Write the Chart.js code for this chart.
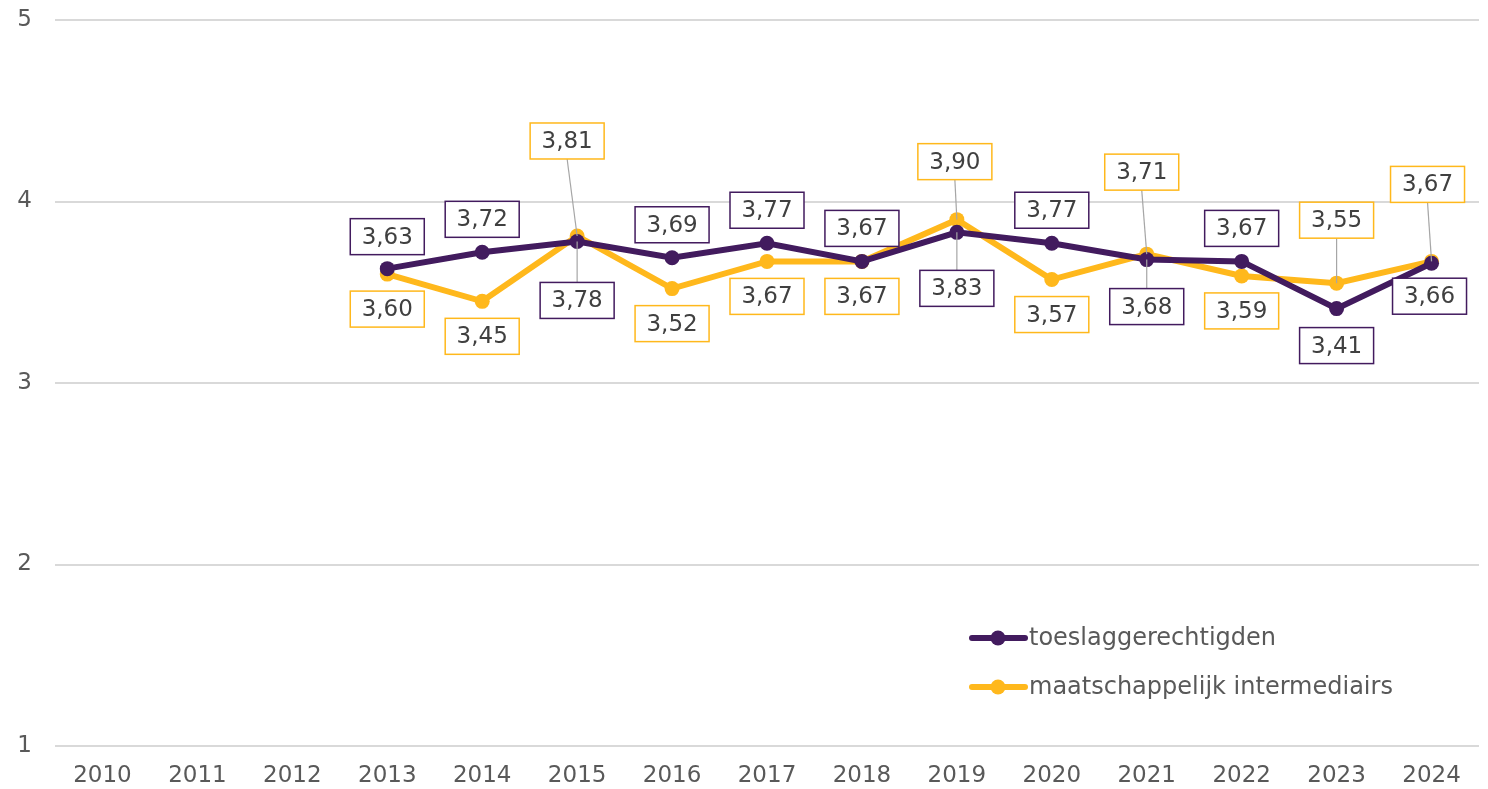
<!DOCTYPE html>
<html>
<head>
<meta charset="utf-8">
<script src="https://cdn.jsdelivr.net/npm/chart.js@4/dist/chart.umd.min.js"></script>
<style>
  html, body { margin: 0; padding: 0; background: #fff; }
  #wrap { width: 1488px; height: 789px; }
</style>
</head>
<body>
<div id="wrap"><canvas id="chart"></canvas></div>
<script>
// Data
const years = ['2010', '2011', '2012', '2013', '2014', '2015', '2016', '2017', '2018', '2019', '2020', '2021', '2022', '2023', '2024'];
const toeslag = [null, null, null, 3.63, 3.72, 3.78, 3.69, 3.77, 3.67, 3.83, 3.77, 3.68, 3.67, 3.41, 3.66];
const intermediairs = [null, null, null, 3.60, 3.45, 3.81, 3.52, 3.67, 3.67, 3.90, 3.57, 3.71, 3.59, 3.55, 3.67];
const yTicks = [1, 2, 3, 4, 5];

// Label placement (pixels from the point)
const toeslagLabelDy = [0, 0, 0, -32, -33, 59, -33, -33, -33, 56, -33, 47, -33, 37, 33];
const toeslagLabelDx = [0, 0, 0, 0, 0, 0, 0, 0, 0, 0, 0, 0, 0, 0, -2];
const interLabelDy = [0, 0, 0, 35, 35, -95, 35, 35, 35, -58, 35, -82, 35, -63, -77];
const interLabelDx = [0, 0, 0, 0, 0, -10, 0, 0, 0, -2, 0, -5, 0, 0, -4];

const PURPLE = '#421B5E';
const YELLOW = '#FFB81C';
const TEXT = '#595959';
const FONT = '"DejaVu Sans", Verdana, sans-serif';
const FONT_SIZE = 23;

const labelPlugin = {
    id: 'boxLabels',
    afterDatasetsDraw(chart) {
        const ctx = chart.ctx;
        const sets = [
            { idx: 0, dx: toeslagLabelDx, dy: toeslagLabelDy, color: PURPLE },
            { idx: 1, dx: interLabelDx, dy: interLabelDy, color: YELLOW }
        ];
        const w = 74, h = 36;
        ctx.save();
        sets.forEach(s => {
            const meta = chart.getDatasetMeta(s.idx);
            const values = chart.data.datasets[s.idx].data;
            meta.data.forEach((pt, i) => {
                if (values[i] === null) return;
                const cx = pt.x + s.dx[i];
                const cy = pt.y + s.dy[i];
                if (Math.abs(s.dy[i]) > 40) {
                    ctx.strokeStyle = '#A6A6A6';
                    ctx.lineWidth = 1.2;
                    ctx.beginPath();
                    ctx.moveTo(pt.x, pt.y);
                    ctx.lineTo(cx, s.dy[i] > 0 ? cy - h / 2 : cy + h / 2);
                    ctx.stroke();
                }
                ctx.fillStyle = '#fff';
                ctx.fillRect(cx - w / 2, cy - h / 2, w, h);
                ctx.strokeStyle = s.color;
                ctx.lineWidth = 1.5;
                ctx.strokeRect(cx - w / 2, cy - h / 2, w, h);
                ctx.fillStyle = '#404040';
                ctx.font = FONT_SIZE + 'px ' + FONT;
                ctx.textAlign = 'center';
                ctx.textBaseline = 'middle';
                ctx.fillText(values[i].toFixed(2).replace('.', ','), cx, cy + 1);
            });
        });
        ctx.restore();
    }
};

const legendPlugin = {
    id: 'innerLegend',
    afterDraw(chart) {
        const ctx = chart.ctx;
        const x0 = 970, rows = [638, 687];
        ctx.save();
        chart.data.datasets.forEach((ds, i) => {
            const y = rows[i];
            ctx.strokeStyle = ds.borderColor;
            ctx.lineWidth = 6;
            ctx.lineCap = 'round';
            ctx.beginPath();
            ctx.moveTo(x0 + 2, y);
            ctx.lineTo(x0 + 55, y);
            ctx.stroke();
            ctx.fillStyle = ds.borderColor;
            ctx.beginPath();
            ctx.arc(x0 + 28, y, 7.5, 0, Math.PI * 2);
            ctx.fill();
            ctx.fillStyle = TEXT;
            ctx.font = '24px ' + FONT;
            ctx.textAlign = 'left';
            ctx.textBaseline = 'middle';
            ctx.fillText(ds.label, x0 + 59, y + 1);
        });
        ctx.restore();
    }
};

new Chart(document.getElementById('chart'), {
    type: 'line',
    data: {
        labels: years,
        datasets: [
            {
                label: 'toeslaggerechtigden',
                data: toeslag,
                borderColor: PURPLE,
                backgroundColor: PURPLE,
                borderWidth: 6,
                pointRadius: 7.5,
                pointHoverRadius: 7.5,
                pointBorderWidth: 0,
                tension: 0
            },
            {
                label: 'maatschappelijk intermediairs',
                data: intermediairs,
                borderColor: YELLOW,
                backgroundColor: YELLOW,
                borderWidth: 6,
                pointRadius: 7.5,
                pointHoverRadius: 7.5,
                pointBorderWidth: 0,
                tension: 0
            }
        ]
    },
    options: {
        responsive: true,
        maintainAspectRatio: false,
        animation: false,
        layout: { padding: { top: 20, right: 9, left: 0, bottom: 0 } },
        plugins: {
            legend: { display: false },
            tooltip: { enabled: false }
        },
        scales: {
            x: {
                offset: true,
                afterFit(axis) { axis.height = 43; axis.paddingLeft = 0; axis.paddingRight = 0; },
                grid: { display: false, drawTicks: false },
                border: { display: false },
                ticks: { color: TEXT, font: { family: FONT, size: FONT_SIZE }, padding: 16, maxRotation: 0, autoSkip: false }
            },
            y: {
                min: 1,
                max: 5,
                afterBuildTicks(axis) { axis.ticks = yTicks.map(v => ({ value: v })); },
                afterFit(axis) { axis.width = 55; axis.paddingTop = 0; axis.paddingBottom = 0; },
                grid: { color: '#D9D9D9', lineWidth: 2, drawTicks: false },
                border: { display: false },
                ticks: { color: TEXT, font: { family: FONT, size: FONT_SIZE }, padding: 23 }
            }
        }
    },
    plugins: [labelPlugin, legendPlugin]
});
</script>
</body>
</html>
